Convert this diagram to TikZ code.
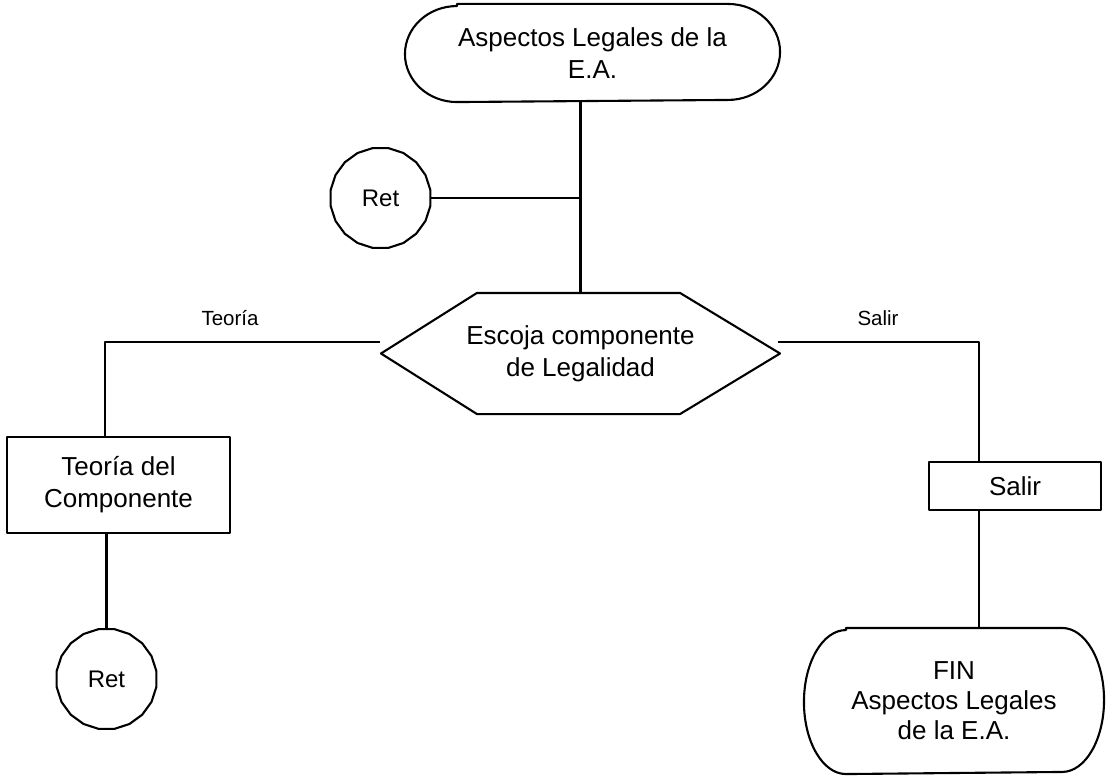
\documentclass[tikz,border=0pt]{standalone}
\usepackage{fontspec}
\setmainfont{Liberation Sans}
\usetikzlibrary{shapes.geometric}
\begin{document}
\begin{tikzpicture}[x=1pt,y=-1pt,
  line width=2.1pt, line join=round,
  txt/.style={font=\fontsize{26}{32}\selectfont, align=center, inner sep=0pt},
  lbl/.style={font=\fontsize{20.5}{24}\selectfont, inner sep=0pt},
  retnode/.style={draw, regular polygon, regular polygon sides=20,
    minimum size=101pt, inner sep=0pt, font=\fontsize{24}{28}\selectfont},
  boxnode/.style={txt, draw}
]
\path[use as bounding box] (0,0) rectangle (1106,778);

% start terminal
\node[txt, minimum width=373pt, minimum height=96pt] (top) at (592.5,53)
  {Aspectos Legales de la\\E.A.};
\draw ([xshift=52pt]top.north west) -- ([xshift=-52pt]top.north east)
  arc[start angle=90,end angle=-90,x radius=52pt,y radius=48pt]
  -- ([xshift=52pt]top.south west)
  arc[start angle=270,end angle=90,x radius=52pt,y radius=48pt] -- cycle;

% decision hexagon
\node[txt, minimum width=397pt, minimum height=119pt] (hex) at (580.5,353.5)
  {Escoja componente\\de Legalidad};
\draw (hex.west) -- ([xshift=96pt]hex.north west) -- ([xshift=-100pt]hex.north east)
  -- (hex.east) -- ([xshift=-100pt]hex.south east) -- ([xshift=96pt]hex.south west) -- cycle;

% return connectors
\node[retnode] (ret1) at (380.5,198) {Ret};
\node[retnode] (ret2) at (106.5,679) {Ret};

% process boxes
\node[boxnode, minimum width=223pt, minimum height=96pt] (teo) at (118.5,485)
  {Teoría del\\Componente};
\node[boxnode, minimum width=172pt, minimum height=48pt] (sal) at (1015,486) {Salir};

% end terminal
\node[txt, font=\fontsize{26}{30}\selectfont, minimum width=298pt, minimum height=144pt]
  (fin) at (954,701) {FIN\\Aspectos Legales\\de la E.A.};
\draw ([xshift=42pt]fin.north west) -- ([xshift=-42pt]fin.north east)
  arc[start angle=90,end angle=-90,x radius=42pt,y radius=72pt]
  -- ([xshift=42pt]fin.south west)
  arc[start angle=270,end angle=90,x radius=42pt,y radius=72pt] -- cycle;

% branch labels
\node[lbl] (lteo) at (230,318) {Teoría};
\node[lbl] (lsal) at (878,318) {Salir};

% connectors
\coordinate (hexL) at (380,342);
\coordinate (hexR) at (778,342);
\coordinate (cL) at (105,342);
\coordinate (cR) at (979,342);
\draw (hex.north) -- (hex.north |- top.south);
\draw (ret1.east) -- (ret1.east -| hex.north);
\draw (hexL) -- (cL) -- (cL |- teo.north);
\draw (ret2.north |- teo.south) -- (ret2.north);
\draw (hexR) -- (cR) -- (cR |- sal.north);
\draw (cR |- sal.south) -- (cR |- fin.north);
\end{tikzpicture}
\end{document}
